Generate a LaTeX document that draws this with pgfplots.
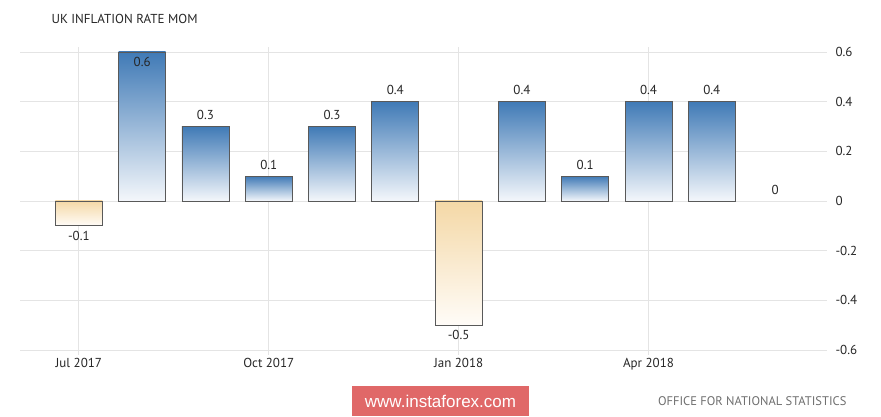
\documentclass[border=0pt]{standalone}
\usepackage{pgfplots}
\pgfplotsset{compat=1.18}
\usepackage{fontspec}
\setmainfont{PT Sans}
\newfontfamily\arialfont{Liberation Sans}
\definecolor{bluetop}{RGB}{64,122,182}
\definecolor{bluebot}{RGB}{244,247,251}
\definecolor{orgtop}{RGB}{244,216,166}
\definecolor{orgbot}{RGB}{255,252,248}
\definecolor{gridc}{RGB}{228,228,228}
\definecolor{wm}{RGB}{224,104,104}
\definecolor{srcgray}{RGB}{110,110,110}
\begin{document}
\begin{tikzpicture}[x=1pt,y=1pt]
\path[use as bounding box] (0,0) rectangle (881,417);
\begin{axis}[
  at={(20pt,67pt)}, anchor=south west,
  scale only axis, width=807pt, height=298pt,
  xmin=-0.93, xmax=11.82, ymin=-0.6, ymax=0.6,
  axis line style={draw=none},
  xtick={0,3,6,9},
  xticklabels={Jul 2017, Oct 2017, Jan 2018, Apr 2018},
  ytick={-0.6,-0.4,-0.2,0,0.2,0.4,0.6},
  yticklabels={-0.6,-0.4,-0.2,0,0.2,0.4,0.6},
  yticklabel pos=right,
  grid=major,
  major grid style={gridc, line width=0.8pt},
  tick align=outside, major tick length=5pt,
  x tick style={gridc, line width=0.8pt},
  y tick style={draw=none},
  ticklabel style={font=\fontsize{13}{15}\selectfont, text=black!85},
  clip=false,
  posbar/.style={ybar, bar width=47pt, bar shift=0pt, draw=black!65, line width=0.7pt,
    top color=bluetop, bottom color=bluebot},
  negbar/.style={ybar, bar width=47pt, bar shift=0pt, draw=black!65, line width=0.7pt,
    top color=orgtop, bottom color=orgbot},
]
\addplot[posbar] coordinates {(1,0.6)};
\addplot[posbar] coordinates {(2,0.3)};
\addplot[posbar] coordinates {(3,0.1)};
\addplot[posbar] coordinates {(4,0.3)};
\addplot[posbar] coordinates {(5,0.4)};
\addplot[posbar] coordinates {(7,0.4)};
\addplot[posbar] coordinates {(8,0.1)};
\addplot[posbar] coordinates {(9,0.4)};
\addplot[posbar] coordinates {(10,0.4)};
\addplot[negbar] coordinates {(0,-0.1)};
\addplot[negbar] coordinates {(6,-0.5)};
% labels above bars
\addplot[draw=none, mark=none, nodes near coords, point meta=explicit symbolic,
  nodes near coords style={anchor=south, yshift=3pt, font=\fontsize{13}{15}\selectfont, text=black!85}]
  coordinates {(2,0.3)[0.3] (3,0.1)[0.1] (4,0.3)[0.3] (5,0.4)[0.4] (7,0.4)[0.4] (8,0.1)[0.1] (9,0.4)[0.4] (10,0.4)[0.4] (11,0)[0]};
% labels below
\addplot[draw=none, mark=none, nodes near coords, point meta=explicit symbolic,
  nodes near coords style={anchor=north, yshift=-1.5pt, font=\fontsize{13}{15}\selectfont, text=black!85}]
  coordinates {(1,0.6)[0.6] (0,-0.1)[-0.1] (6,-0.5)[-0.5]};
\end{axis}
\node[anchor=base west, font=\fontsize{13}{15}\selectfont, text=black!85] at (48,393) {UK INFLATION RATE MOM};
\node[anchor=base east, font=\fontsize{12.5}{14}\selectfont, text=srcgray] at (850,11) {OFFICE FOR NATIONAL STATISTICS};
\fill[wm] (352,1) rectangle (529,31);
\node[text=white, font=\arialfont\fontsize{17}{19}\selectfont] at (440.5,16) {www.instaforex.com};
\end{tikzpicture}
\end{document}
